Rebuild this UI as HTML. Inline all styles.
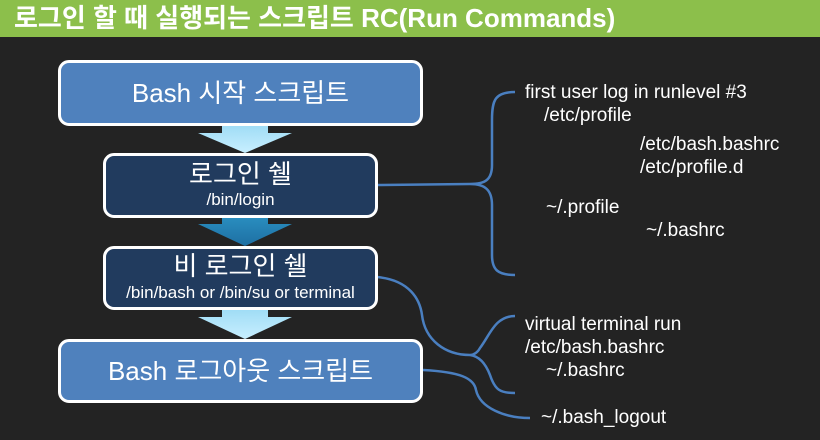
<!DOCTYPE html>
<html><head><meta charset="utf-8"><style>
body{margin:0;width:820px;height:440px;background:#232323;overflow:hidden;position:relative;font-family:"Liberation Sans","Noto Sans CJK KR",sans-serif;color:#fff}
.title{position:absolute;left:0;top:0;width:820px;height:37px;background:#8cbf4b;}
.title span{position:absolute;left:14px;top:2px;font-size:26px;font-weight:bold;white-space:nowrap;line-height:32px}
.box{position:absolute;border:3px solid #fff;border-radius:11px;box-sizing:border-box;text-align:center;color:#fff;white-space:nowrap}
.t{position:absolute;font-size:19px;white-space:nowrap}
</style></head><body>
<div class="title"><span>로그인 할 때 실행되는 스크립트 RC(Run Commands)</span></div>
<svg width="820" height="440" style="position:absolute;left:0;top:0">
<defs>
<linearGradient id="g1" x1="0" y1="0" x2="0" y2="1"><stop offset="0" stop-color="#9fdcf5"/><stop offset="1" stop-color="#c8efff"/></linearGradient>
<linearGradient id="g2" x1="0" y1="0" x2="0" y2="1"><stop offset="0" stop-color="#2a8fc0"/><stop offset="1" stop-color="#1e6fa3"/></linearGradient>
</defs>
<polygon points="222,125 268,125 268,133 292,133 245,153 198,133 222,133" fill="url(#g1)"/>
<polygon points="222,216 268,216 268,224 292,224 245,246 198,224 222,224" fill="url(#g2)"/>
<polygon points="222,309 268,309 268,317 292,317 245,339 198,317 222,317" fill="url(#g1)"/>
<g fill="none" stroke="#4a7fc0" stroke-width="2.5">
<path d="M377,185 L470,184"/>
<path d="M515,92 C495,92 492,100 492,120 L492,165 C492,180 485,184 470,184 C485,184 492,190 492,205 L492,255 C492,270 498,275 515,275"/>
<path d="M377,277 C410,280 420,300 422,315 C425,340 445,355 470,355"/>
<path d="M515,316 C495,316 490,335 480,348 C478,352 474,355 470,355 C478,356 485,362 490,375 C495,390 500,393 515,393"/>
<path d="M423,370 C460,372 474,378 476,390 C480,408 505,418 530,418"/>
</g>
</svg>
<div class="box" style="left:58px;top:60px;width:365px;height:66px;background:#4f81bd;font-size:26px;line-height:60px">Bash 시작 스크립트</div>
<div class="box" style="left:103px;top:153px;width:275px;height:65px;background:#213b5e"><div style="font-size:26px;margin-top:3px;line-height:30px">로그인 쉘</div><div style="font-size:17px;line-height:22px">/bin/login</div></div>
<div class="box" style="left:103px;top:246px;width:275px;height:64px;background:#213b5e"><div style="font-size:26px;margin-top:2px;line-height:30px">비 로그인 쉘</div><div style="font-size:17px;line-height:24px">/bin/bash or /bin/su or terminal</div></div>
<div class="box" style="left:58px;top:339px;width:365px;height:64px;background:#4f81bd;font-size:26px;line-height:58px">Bash 로그아웃 스크립트</div>
<div class="t" style="left:525px;top:82px">first user log in runlevel #3</div>
<div class="t" style="left:544px;top:105px">/etc/profile</div>
<div class="t" style="left:640px;top:134px">/etc/bash.bashrc</div>
<div class="t" style="left:640px;top:157px">/etc/profile.d</div>
<div class="t" style="left:546px;top:197px">~/.profile</div>
<div class="t" style="left:646px;top:220px">~/.bashrc</div>
<div class="t" style="left:525px;top:314px">virtual terminal run</div>
<div class="t" style="left:525px;top:337px">/etc/bash.bashrc</div>
<div class="t" style="left:546px;top:360px">~/.bashrc</div>
<div class="t" style="left:541px;top:407px">~/.bash_logout</div>
</body></html>
